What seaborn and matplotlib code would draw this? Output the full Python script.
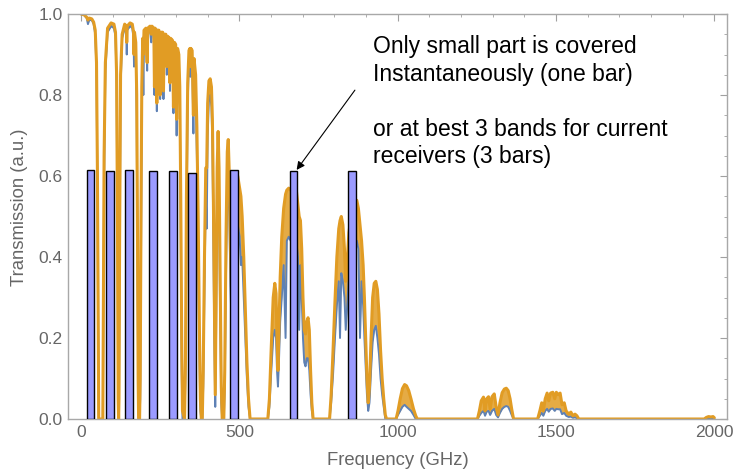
import matplotlib
matplotlib.use("Agg")
import numpy as np
import pandas as pd
import seaborn as sns
import matplotlib.pyplot as plt
from matplotlib.ticker import MultipleLocator

# atmospheric transmission (GHz, dry = orange, wet = blue)
freq_ghz = [
    0, 10, 18, 22, 26, 34, 40, 45, 49, 52, 54.5, 56, 69, 70.5, 73, 77, 84, 95, 104, 109,
    112.5, 115.5, 117.5, 118.8, 120, 122, 125, 130, 138, 143, 144.5, 146, 155, 162, 166, 167.5, 169, 173, 176, 178.5,
    180.5, 182, 185, 187, 189.5, 192, 195, 197, 199, 205, 209, 211, 218, 222, 224, 230, 232, 234, 238, 239.5,
    241, 246, 250, 252, 258, 260.5, 263, 268, 271, 274, 279, 281, 283, 289, 292, 295, 299, 302, 305, 309,
    312, 315, 318, 320.5, 327, 330, 333, 337, 341, 344, 345.5, 347, 351, 355, 357, 362, 366, 370, 374, 377,
    380, 383, 386, 390, 394, 397, 400, 404, 408, 412, 415, 418, 421, 424, 426.5, 430, 433, 436, 439.5, 443,
    446, 451, 454, 458, 462, 465, 468.5, 472, 476, 481, 488, 495, 501, 505, 509, 514, 519, 524, 529, 534,
    590, 595, 601, 607, 612, 616, 619, 622, 625, 629, 634, 640, 646, 650, 656, 662, 668, 674, 680, 685,
    689, 693, 697, 701, 705, 709, 713, 717, 721, 725, 729, 733, 785, 790, 796, 802, 808, 814, 818, 822,
    827, 832, 836, 840, 846, 853, 860, 866, 871, 876, 881, 886, 891, 895, 899, 903, 907, 911, 916, 921,
    926, 931, 936, 941, 946, 951, 956, 961, 965, 995, 1001, 1008, 1015, 1022, 1028, 1035, 1042, 1050, 1057, 1062,
    1252, 1258, 1264, 1271, 1276, 1281, 1287, 1292, 1298, 1305, 1311, 1317, 1323, 1330, 1337, 1343, 1349, 1355, 1360, 1366,
    1442, 1449, 1455, 1460, 1466, 1472, 1477, 1483, 1490, 1496, 1501, 1507, 1513, 1519, 1526, 1532, 1540, 1547, 1553, 1560,
    1566, 1572, 1968, 1975, 1982, 1989, 1996, 2000,
]
trans_dry = [
    1.0, 0.998, 0.992, 0.985, 0.99, 0.988, 0.98, 0.96, 0.88, 0.6, 0.2, 0.0, 0.0, 0.25, 0.65, 0.88, 0.965, 0.978, 0.975, 0.955,
    0.85, 0.45, 0.05, 0.0, 0.05, 0.45, 0.85, 0.95, 0.975, 0.97, 0.93, 0.97, 0.978, 0.975, 0.955, 0.9, 0.955, 0.93, 0.8, 0.45,
    0.1, 0.0, 0.0, 0.1, 0.5, 0.82, 0.94, 0.9, 0.96, 0.965, 0.88, 0.965, 0.97, 0.95, 0.97, 0.965, 0.82, 0.965, 0.96, 0.78,
    0.96, 0.96, 0.8, 0.955, 0.955, 0.81, 0.95, 0.95, 0.87, 0.945, 0.94, 0.83, 0.94, 0.935, 0.77, 0.93, 0.925, 0.74, 0.915, 0.9,
    0.82, 0.55, 0.2, 0.02, 0.0, 0.15, 0.55, 0.83, 0.91, 0.915, 0.87, 0.915, 0.91, 0.75, 0.89, 0.85, 0.72, 0.5, 0.22, 0.05,
    0.0, 0.0, 0.12, 0.4, 0.62, 0.62, 0.78, 0.835, 0.84, 0.82, 0.74, 0.55, 0.3, 0.06, 0.3, 0.62, 0.71, 0.62, 0.35, 0.08,
    0.0, 0.0, 0.12, 0.45, 0.66, 0.69, 0.6, 0.42, 0.3, 0.45, 0.58, 0.6, 0.57, 0.55, 0.5, 0.4, 0.27, 0.14, 0.05, 0.0,
    0.0, 0.05, 0.18, 0.3, 0.335, 0.31, 0.2, 0.12, 0.22, 0.35, 0.45, 0.52, 0.555, 0.565, 0.57, 0.565, 0.56, 0.57, 0.565, 0.53,
    0.5, 0.49, 0.42, 0.3, 0.22, 0.21, 0.24, 0.25, 0.22, 0.12, 0.04, 0.0, 0.0, 0.06, 0.17, 0.29, 0.4, 0.47, 0.49, 0.5,
    0.48, 0.42, 0.34, 0.38, 0.46, 0.5, 0.53, 0.54, 0.54, 0.52, 0.48, 0.44, 0.38, 0.3, 0.2, 0.1, 0.04, 0.08, 0.2, 0.3,
    0.335, 0.34, 0.32, 0.26, 0.17, 0.1, 0.05, 0.01, 0.0, 0.0, 0.02, 0.05, 0.075, 0.085, 0.082, 0.07, 0.05, 0.025, 0.008, 0.0,
    0.0, 0.02, 0.045, 0.054, 0.02, 0.05, 0.055, 0.025, 0.055, 0.062, 0.03, 0.01, 0.04, 0.065, 0.074, 0.076, 0.07, 0.05, 0.025, 0.0,
    0.0, 0.02, 0.04, 0.02, 0.05, 0.064, 0.045, 0.064, 0.066, 0.05, 0.066, 0.06, 0.064, 0.035, 0.04, 0.02, 0.012, 0.017, 0.008, 0.012,
    0.008, 0.0, 0.0, 0.004, 0.006, 0.005, 0.006, 0.003,
]
trans_wet = [
    1.0, 0.997, 0.99, 0.975, 0.985, 0.985, 0.975, 0.95, 0.86, 0.55, 0.15, 0.0, 0.0, 0.2, 0.6, 0.86, 0.955, 0.97, 0.965, 0.945,
    0.83, 0.4, 0.03, 0.0, 0.03, 0.4, 0.82, 0.94, 0.965, 0.96, 0.9, 0.96, 0.97, 0.965, 0.94, 0.87, 0.94, 0.9, 0.75, 0.35,
    0.12, 0.0, 0.0, 0.05, 0.4, 0.75, 0.92, 0.8, 0.95, 0.955, 0.86, 0.955, 0.96, 0.93, 0.96, 0.955, 0.8, 0.955, 0.95, 0.76,
    0.95, 0.95, 0.79, 0.945, 0.945, 0.79, 0.94, 0.94, 0.85, 0.935, 0.93, 0.81, 0.93, 0.92, 0.755, 0.915, 0.91, 0.7, 0.9, 0.88,
    0.78, 0.45, 0.12, 0.0, 0.0, 0.11, 0.45, 0.78, 0.89, 0.9, 0.845, 0.9, 0.89, 0.705, 0.87, 0.8, 0.65, 0.4, 0.15, 0.02,
    0.0, 0.0, 0.08, 0.33, 0.55, 0.47, 0.7, 0.79, 0.8, 0.77, 0.68, 0.45, 0.2, 0.03, 0.2, 0.52, 0.6, 0.52, 0.25, 0.04,
    0.0, 0.0, 0.08, 0.36, 0.55, 0.58, 0.5, 0.33, 0.22, 0.36, 0.47, 0.48, 0.45, 0.38, 0.4, 0.3, 0.2, 0.1, 0.03, 0.0,
    0.0, 0.03, 0.12, 0.2, 0.22, 0.2, 0.12, 0.08, 0.14, 0.24, 0.3, 0.38, 0.2, 0.44, 0.45, 0.44, 0.44, 0.45, 0.44, 0.4,
    0.22, 0.38, 0.3, 0.2, 0.14, 0.13, 0.15, 0.15, 0.12, 0.06, 0.02, 0.0, 0.0, 0.04, 0.11, 0.2, 0.28, 0.34, 0.2, 0.36,
    0.34, 0.3, 0.22, 0.27, 0.35, 0.4, 0.43, 0.44, 0.44, 0.42, 0.2, 0.34, 0.28, 0.2, 0.13, 0.06, 0.02, 0.04, 0.12, 0.19,
    0.22, 0.23, 0.2, 0.16, 0.1, 0.06, 0.03, 0.0, 0.0, 0.0, 0.01, 0.02, 0.03, 0.035, 0.03, 0.025, 0.02, 0.01, 0.0, 0.0,
    0.0, 0.008, 0.015, 0.02, 0.008, 0.018, 0.02, 0.01, 0.02, 0.025, 0.01, 0.004, 0.015, 0.025, 0.03, 0.032, 0.03, 0.02, 0.01, 0.0,
    0.0, 0.008, 0.015, 0.008, 0.02, 0.025, 0.018, 0.025, 0.026, 0.02, 0.025, 0.024, 0.024, 0.012, 0.015, 0.008, 0.005, 0.006, 0.003, 0.004,
    0.002, 0.0, 0.0, 0.001, 0.002, 0.002, 0.002, 0.001,
]

# receiver bands (bars)
band_center = [30, 92, 152, 228, 290, 351, 483, 671, 856]
band_height = [0.614, 0.612, 0.615, 0.612, 0.612, 0.608, 0.615, 0.613, 0.613]
band_width = 25

note_lines = ["Only small part is covered", "Instantaneously (one bar)", "",
              "or at best 3 bands for current", "receivers (3 bars)"]

sns.set_style("white")
plt.rcParams['font.family'] = ['Liberation Sans', 'DejaVu Sans']

fig = plt.figure(figsize=(7.33, 4.74), dpi=100)
ax = fig.add_axes([68 / 733, 1 - 419 / 474, 659 / 733, 405 / 474])

df = pd.DataFrame({"freq": freq_ghz, "dry": trans_dry, "wet": trans_wet})
# the band of intermediate curves between wet and dry
ax.fill_between(df["freq"], df["wet"], df["dry"], color="#E19C24",
                alpha=0.85, lw=0, zorder=2.0)
sns.lineplot(data=df, x="freq", y="wet", color="#5E81B5", lw=1.4,
             sort=False, estimator=None, ax=ax, zorder=2.1)
sns.lineplot(data=df, x="freq", y="dry", color="#E19C24", lw=2.2,
             sort=False, estimator=None, ax=ax, zorder=2.2)

ax.bar(band_center, band_height, width=band_width, color="#9B9BFF",
       edgecolor="black", lw=1.0, zorder=3)

ax.set_xlim(-41, 2040)
ax.set_ylim(0, 1)
ax.xaxis.set_major_locator(MultipleLocator(500))
ax.xaxis.set_minor_locator(MultipleLocator(100))
ax.yaxis.set_major_locator(MultipleLocator(0.2))
ax.yaxis.set_minor_locator(MultipleLocator(0.05))
ax.yaxis.set_major_formatter(matplotlib.ticker.FormatStrFormatter("%.1f"))
ax.tick_params(which="both", direction="in", top=True, right=True,
               color="#a0a0a0", labelcolor="#666666", labelsize=12.5)
ax.tick_params(which="major", length=5, width=0.8, pad=4)
ax.tick_params(which="minor", length=2.5, width=0.6)
for s in ax.spines.values():
    s.set_color("#a8a8a8")
    s.set_linewidth(1.0)

ax.set_xlabel("Frequency (GHz)", fontsize=13.3, color="#666666", labelpad=9)
ax.set_ylabel("Transmission (a.u.)", fontsize=13.3, color="#666666")
ax.yaxis.set_label_coords(-0.061, 0.523)

y0 = 53
for line in note_lines:
    if line:
        fig.text(373 / 733, 1 - y0 / 474, line, fontsize=16.5, color="black",
                 va="baseline", ha="left")
    y0 += 27.5

ax.annotate("", xy=(681, 0.615), xytext=(865, 0.812),
            arrowprops=dict(arrowstyle="-|>", color="black", lw=0.8,
                            mutation_scale=12, shrinkA=0, shrinkB=0))

fig.savefig("out.png", dpi=100)
